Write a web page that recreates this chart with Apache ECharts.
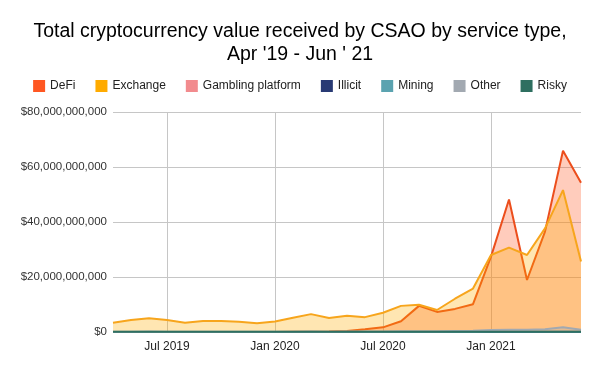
<!DOCTYPE html>
<html>
<head>
<meta charset="utf-8">
<script src="https://cdn.jsdelivr.net/npm/echarts@6/dist/echarts.min.js"></script>
<style>
html,body{margin:0;padding:0;background:#fff;}
#chart{width:600px;height:371px;}
</style>
</head>
<body>
<div id="chart"></div>
<script>
// Monthly categories, Apr 2019 - Jun 2021
const months = ['Apr 2019','May 2019','Jun 2019','Jul 2019','Aug 2019','Sep 2019','Oct 2019','Nov 2019','Dec 2019',
  'Jan 2020','Feb 2020','Mar 2020','Apr 2020','May 2020','Jun 2020','Jul 2020','Aug 2020','Sep 2020','Oct 2020','Nov 2020','Dec 2020',
  'Jan 2021','Feb 2021','Mar 2021','Apr 2021','May 2021','Jun 2021'];
const labeledMonths = ['Jul 2019','Jan 2020','Jul 2020','Jan 2021'];

// Values in billions of USD
const defi     = [0.02,0.02,0.02,0.02,0.02,0.02,0.02,0.02,0.02,0.02,0.05,0.1,0.2,0.4,1.0,1.7,3.9,9.5,7.3,8.4,10.1,27.4,48.2,18.9,36.5,65.9,54.3];
const exchange = [3.4,4.4,5.0,4.4,3.4,4.0,4.0,3.7,3.2,3.8,5.2,6.5,5.1,5.9,5.4,7.0,9.5,9.9,8.0,12.1,15.8,28.0,30.7,28.0,37.7,51.6,25.6];
const gambling = [0.03,0.03,0.03,0.03,0.03,0.03,0.03,0.03,0.03,0.03,0.03,0.03,0.03,0.03,0.03,0.03,0.04,0.04,0.04,0.04,0.05,0.06,0.06,0.06,0.07,0.08,0.06];
const illicit  = [0.02,0.02,0.02,0.02,0.02,0.02,0.02,0.02,0.02,0.02,0.02,0.02,0.02,0.02,0.02,0.02,0.02,0.02,0.02,0.02,0.02,0.03,0.03,0.03,0.03,0.03,0.03];
const mining   = [0.03,0.03,0.03,0.03,0.03,0.03,0.03,0.03,0.03,0.03,0.03,0.03,0.03,0.03,0.03,0.03,0.03,0.03,0.03,0.04,0.04,0.05,0.05,0.05,0.06,0.06,0.05];
const other    = [0.1,0.1,0.2,0.1,0.1,0.1,0.1,0.1,0.1,0.1,0.1,0.2,0.1,0.2,0.2,0.2,0.3,0.3,0.3,0.4,0.5,0.7,0.8,0.8,1.0,1.7,0.8];
const risky    = [0.05,0.05,0.05,0.05,0.05,0.05,0.05,0.05,0.05,0.05,0.05,0.05,0.05,0.05,0.05,0.05,0.05,0.05,0.05,0.05,0.06,0.08,0.08,0.08,0.09,0.1,0.08];
const yTicks = [0,20,40,60,80];

const seriesDefs = [
  {name:'DeFi', data:defi, color:'#ff5722', line:'#ec4e1c'},
  {name:'Exchange', data:exchange, color:'#ffab00', line:'#f7a51c'},
  {name:'Gambling platform', data:gambling, color:'#f28b8e', line:'#f28b8e'},
  {name:'Illicit', data:illicit, color:'#283a74', line:'#283a74'},
  {name:'Mining', data:mining, color:'#5ba3b0', line:'#5ba3b0'},
  {name:'Other', data:other, color:'#a2a9b1', line:'#a2a9b1'},
  {name:'Risky', data:risky, color:'#2e6f60', line:'#2e6f60'}
];

const FONT = '"Liberation Sans", Arial, sans-serif';
const chart = echarts.init(document.getElementById('chart'), null, {renderer:'canvas'});
const isLabeled = (idx) => labeledMonths.indexOf(months[idx]) >= 0;

chart.setOption({
  animation:false,
  backgroundColor:'#ffffff',
  title:{
    text:"Total cryptocurrency value received by CSAO by service type,\nApr '19 - Jun ' 21",
    left:'center', top:20, padding:0,
    textStyle:{fontFamily:FONT, fontSize:19.5, fontWeight:'normal', color:'#000', lineHeight:23, align:'center'}
  },
  legend:{
    top:80, left:'center', padding:0,
    itemWidth:12, itemHeight:12, itemGap:20,
    icon:'rect',
    textStyle:{fontFamily:FONT, fontSize:12, color:'#222'},
    data:seriesDefs.map(s=>s.name)
  },
  grid:{left:113, right:19, top:112, bottom:39},
  xAxis:{
    type:'category',
    data:months,
    boundaryGap:false,
    axisLine:{show:false},
    axisTick:{show:false},
    axisLabel:{
      interval:(idx)=>isLabeled(idx),
      formatter:(v)=>v,
      fontFamily:FONT, fontSize:12, color:'#222', margin:9
    },
    splitLine:{show:true, interval:(idx)=>isLabeled(idx), lineStyle:{color:'#c6c6c6', width:1}}
  },
  yAxis:{
    type:'value',
    min:yTicks[0], max:yTicks[yTicks.length-1], interval:20,
    axisLine:{show:false},
    axisTick:{show:false},
    axisLabel:{
      formatter:(v)=>'$' + Math.round(v*1e9).toLocaleString('en-US'),
      fontFamily:FONT, fontSize:11.5, color:'#333', margin:6
    },
    splitLine:{lineStyle:{color:'#c6c6c6', width:1}}
  },
  series:seriesDefs.map((s,i)=>({
    name:s.name,
    type:'line',
    data:s.data,
    color:s.color,
    showSymbol:false,
    symbol:'none',
    z:2+i,
    lineStyle:{color:s.line, width:2},
    itemStyle:{color:s.color},
    areaStyle:{color:s.color, opacity:0.3}
  }))
});
</script>
</body>
</html>
